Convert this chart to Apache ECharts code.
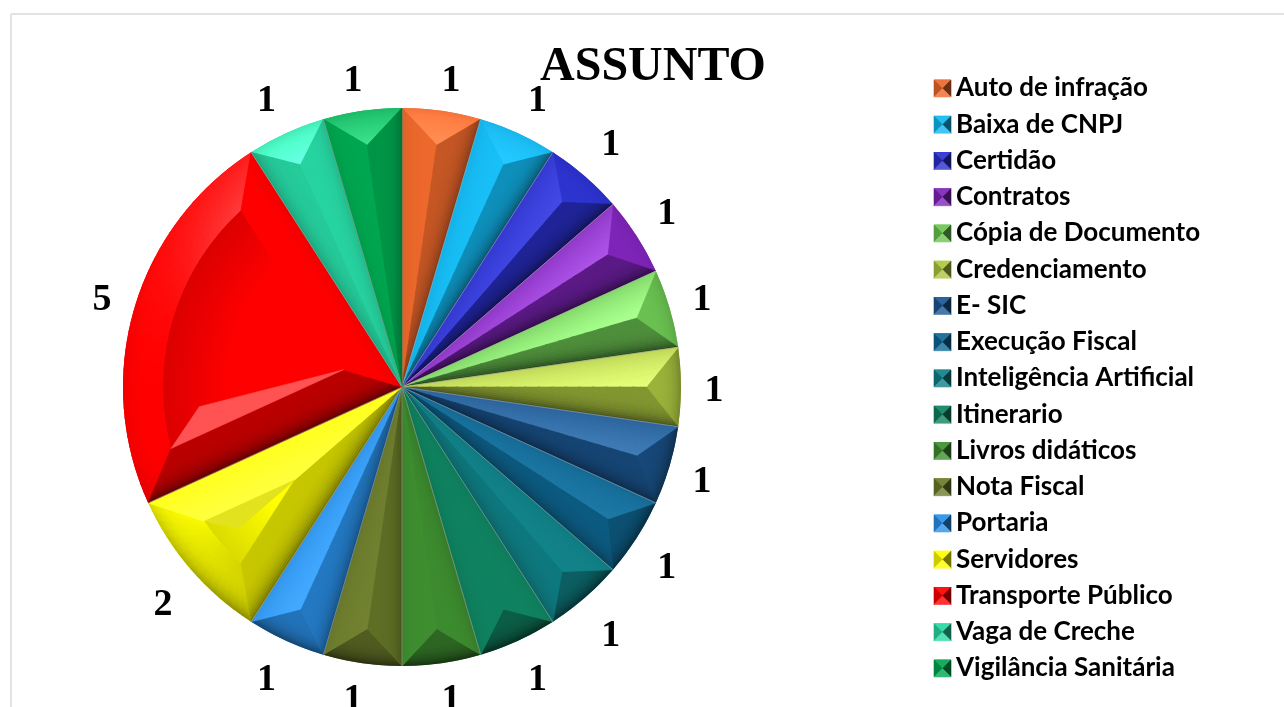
<!DOCTYPE html>
<html><head><meta charset="utf-8">
<style>html,body{margin:0;padding:0;background:#fff}#c{width:1284px;height:707px}</style>
<script src="https://cdn.jsdelivr.net/npm/echarts@6/dist/echarts.min.js"></script>
</head><body><div id="c"></div>
<script>
const categories = ["Auto de infração","Baixa de CNPJ","Certidão","Contratos","Cópia de Documento","Credenciamento","E- SIC","Execução Fiscal","Inteligência Artificial","Itinerario","Livros didáticos","Nota Fiscal","Portaria","Servidores","Transporte Público","Vaga de Creche","Vigilância Sanitária"];
const values = [1,1,1,1,1,1,1,1,1,1,1,1,1,2,5,1,1];
const colors = ["#EC682C","#12B8F0","#2A30CC","#7E24B8","#6CC452","#ACC640","#1B5690","#0E6894","#0F8086","#0F8260","#3E8E30","#6A7A2A","#2A90E8","#FFFF00","#FF0000","#28D8A4","#00A650"];

const cx = 402, cy = 387, R = 279, BEVEL = 40, LABEL_R = 312, LABEL_CY = 391;
const LEG_X = 934, LEG_Y = 80, LEG_SIZE = 17, LEG_STEP = 36.25, LEG_FONT = 26;
const total = values.reduce((a, b) => a + b, 0);
const rad = d => d * Math.PI / 180;
const pt = (r, a) => [cx + r * Math.sin(rad(a)), cy - r * Math.cos(rad(a))];
const lerp = (p, q, t) => [p[0] + (q[0] - p[0]) * t, p[1] + (q[1] - p[1]) * t];
const hex = c => [1, 3, 5].map(i => parseInt(c.substr(i, 2), 16));
const mix = (c, m, t) => c.map((v, i) => v + (m[i] - v) * t);
const css = c => 'rgb(' + c.map(v => Math.min(255, Math.round(v))).join(',') + ')';
const LIGHT_BEARING = 340;

function facetColor(base, bearing, t) {
  const l = Math.cos(rad(bearing - LIGHT_BEARING));
  let c = hex(base);
  if (l > 0) { const add = Math.pow(l, 4) * 66 * (0.5 + 0.5 * t); c = c.map(v => v + add); }
  else c = mix(c, [0, 0, 0], -l * 0.28);
  const edge = Math.pow(1 - t, 4) * (0.06 + 0.42 * Math.max(0, -l + 0.1));
  return mix(c, [0, 0, 0], edge);
}
function poly(points, fill) {
  return { type: 'polygon', silent: true, shape: { points },
    style: { fill, stroke: typeof fill === 'string' ? fill : null, lineWidth: typeof fill === 'string' ? 0.6 : 0 } };
}
function arcPts(r, a0, a1, n) {
  const out = [];
  for (let i = 0; i <= n; i++) out.push(pt(r, a0 + (a1 - a0) * i / n));
  return out;
}
function sliceShapes(i) {
  const before = values.slice(0, i).reduce((a, b) => a + b, 0);
  const a0 = before / total * 360, a1 = (before + values[i]) / total * 360;
  const h = (a1 - a0) / 2, mid = a0 + h, s = Math.sin(rad(h)), base = colors[i];
  const inscribed = R * s / (1 + s), d = Math.min(BEVEL, inscribed), Ri = R - d;
  const dl = Math.asin(Math.min(1, d / Ri)) * 180 / Math.PI;
  const O = [cx, cy], Ac = pt(d / s, mid);
  const i0 = a0 + Math.min(dl, h), i1 = a1 - Math.min(dl, h);
  const C0 = pt(Ri, i0), C1 = pt(Ri, i1), E0 = pt(R, a0), E1 = pt(R, a1);
  const out = [];
  if (inscribed > BEVEL) {
    const stops = [{ offset: 0, color: css(hex(base)) }, { offset: 0.62, color: css(hex(base)) },
      { offset: Ri / R, color: css(mix(hex(base), [0, 0, 0], 0.14)) }, { offset: 1, color: css(mix(hex(base), [0, 0, 0], 0.14)) }];
    out.push(poly([Ac].concat(arcPts(Ri, i0, i1, 24)), new echarts.graphic.RadialGradient(cx, cy, R, stops, true)));
  }
  const segs = values[i] > 1 ? Math.round((a1 - a0) / 2) : 1;
  for (let k = 0; k < segs; k++) {
    const o0 = a0 + (a1 - a0) * k / segs, o1 = a0 + (a1 - a0) * (k + 1) / segs;
    const n0 = i0 + (i1 - i0) * k / segs, n1 = i0 + (i1 - i0) * (k + 1) / segs;
    const bearing = (o0 + o1) / 2;
    const stops = [];
    for (let j = 0; j <= 6; j++) stops.push({ offset: (Ri + d * j / 6) / R, color: css(facetColor(base, bearing, 1 - j / 6)) });
    stops.unshift({ offset: 0, color: stops[0].color });
    const over = k < segs - 1 ? 0.4 : 0;
    out.push(poly(arcPts(R, o0, o1 + over, 6).concat(arcPts(Ri, n1 + over, n0, 6)), new echarts.graphic.RadialGradient(cx, cy, R, stops, true)));
  }
  const STRIPS = 18;
  [[E0, C0, a0 - 90], [E1, C1, a1 + 90]].forEach(([E, C, bearing]) => {
    for (let k = 0; k < STRIPS; k++) {
      const t0 = k / STRIPS, t1 = (k + 1) / STRIPS;
      out.push(poly([lerp(O, Ac, t0), lerp(E, C, t0), lerp(E, C, t1), lerp(O, Ac, t1)], css(facetColor(base, bearing, (t0 + t1) / 2))));
    }
  });
  if (values[i] === 5) out.push(poly([Ac, C0, pt(0.73 * R, a0 + 19)], '#FF5252'));
  if (values[i] === 2) out.push(poly([Ac, C1, pt(0.775 * R, mid)], '#E2E21E'));
  out.push({ type: 'line', silent: true, shape: { x1: cx, y1: cy, x2: E0[0], y2: E0[1] }, style: { stroke: 'rgba(170,170,170,0.55)', lineWidth: 1 } });
  return out;
}
function legendShapes(i) {
  const x = LEG_X, y = LEG_Y + i * LEG_STEP, s = LEG_SIZE, c = hex(colors[i]);
  const m = [x + s / 2, y + s / 2], tl = [x, y], tr = [x + s, y], bl = [x, y + s], br = [x + s, y + s];
  return [
    poly([tl, tr, m], css(mix(c, [255, 255, 255], 0.08))),
    poly([tl, bl, m], css(mix(c, [0, 0, 0], 0.2))),
    poly([tr, br, m], css(mix(c, [0, 0, 0], 0.55))),
    poly([bl, br, m], css(mix(c, [255, 255, 255], 0.2)))
  ];
}

const chart = echarts.init(document.getElementById('c'));
chart.setOption({
  animation: false,
  backgroundColor: '#fff',
  title: { text: 'ASSUNTO', left: 648, top: 39, textAlign: 'center',
    textStyle: { fontFamily: 'Liberation Serif', fontWeight: 'bold', fontSize: 48, color: '#000' } },
  legend: { orient: 'vertical', left: LEG_X, top: LEG_Y - 5, padding: 0, height: 640, itemWidth: LEG_SIZE, itemHeight: LEG_SIZE, itemGap: LEG_STEP - LEG_FONT,
    data: categories, icon: 'rect', selectedMode: false,
    textStyle: { fontFamily: 'Lato', fontWeight: 'bold', fontSize: LEG_FONT, color: '#000' } },
  graphic: [
    { type: 'line', silent: true, shape: { x1: 11, y1: 14, x2: 1284, y2: 14 }, style: { stroke: '#e2e2e2', lineWidth: 2 } },
    { type: 'line', silent: true, shape: { x1: 11, y1: 14, x2: 11, y2: 707 }, style: { stroke: '#e2e2e2', lineWidth: 2 } }
  ],
  series: [
    { type: 'pie', center: [cx, cy], radius: [0, R], startAngle: 90, clockwise: true, silent: true, minAngle: 0,
      data: categories.map((name, i) => ({ name, value: values[i], itemStyle: { color: colors[i] } })),
      label: { show: true, position: 'outside', formatter: '{c}', fontFamily: 'Liberation Serif', fontWeight: 'bold', fontSize: 38, color: '#000' },
      labelLine: { show: false },
      labelLayout: p => {
        const before = values.slice(0, p.dataIndex).reduce((a, b) => a + b, 0);
        const a = rad((before + values[p.dataIndex] / 2) / total * 360);
        const sn = Math.sin(a), cs = Math.cos(a), s2 = Math.sin(2 * a);
        return { x: cx + Math.sign(sn) * LABEL_R * Math.pow(Math.abs(sn), 0.95),
                 y: LABEL_CY - Math.sign(cs) * (LABEL_R * Math.abs(cs) + 10 * s2 * s2),
                 align: 'center', verticalAlign: 'middle' };
      } },
    { type: 'custom', coordinateSystem: 'none', silent: true, z: 10,
      data: categories.map((_, i) => i),
      renderItem: (params, api) => {
        const i = api.value(0);
        return { type: 'group', children: sliceShapes(i).concat(legendShapes(i)) };
      } }
  ]
});
</script></body></html>
